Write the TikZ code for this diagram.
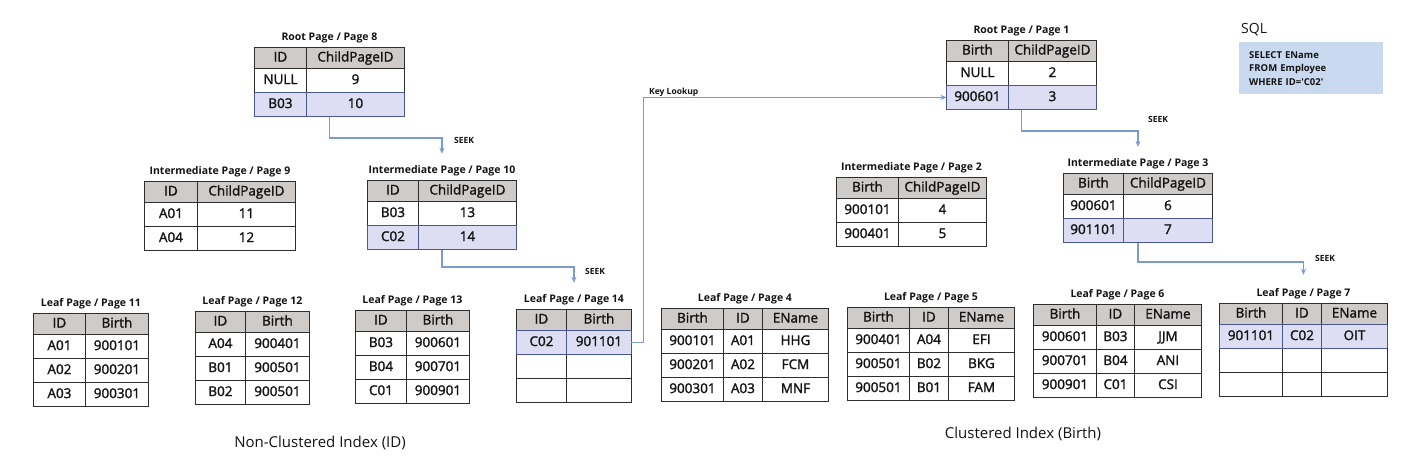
\documentclass[tikz,border=0pt]{standalone}
\usepackage{fontspec}
\setmainfont{Open Sans}
\newfontfamily\cellfont[FakeBold=1.6]{Open Sans}
\usetikzlibrary{matrix,arrows.meta}
\definecolor{hdr}{HTML}{CFCBC9}
\definecolor{hlc}{HTML}{DDDDF3}
\definecolor{hlb}{HTML}{4A5696}
\definecolor{bd}{HTML}{2E2E2E}
\definecolor{cn}{HTML}{7B9AD0}
\definecolor{sqlc}{HTML}{C9D9F0}
\definecolor{tx}{HTML}{141414}
\tikzset{
  tbl/.style={matrix of nodes, anchor=north west, inner sep=0pt, outer sep=0pt,
    column sep=-0.9pt, row sep=-0.9pt, nodes in empty cells,
    nodes={draw=bd, line width=0.9pt, inner sep=0pt, outer sep=0pt,
      minimum height=24pt, text height=9.8pt, text depth=2.6pt, text=tx,
      font=\cellfont\fontsize{13.5}{15}\selectfont, anchor=center},
    row 1/.style={nodes={fill=hdr, minimum height=21pt}}},
  hl/.style={row #1/.style={nodes={fill=hlc, draw=hlb}}},
  cwtwo/.style 2 args={column 1/.style={nodes={minimum width=#1pt}},
    column 2/.style={nodes={minimum width=#2pt}}},
  cwthree/.style n args={3}{column 1/.style={nodes={minimum width=#1pt}},
    column 2/.style={nodes={minimum width=#2pt}},
    column 3/.style={nodes={minimum width=#3pt}}},
  ttl/.style={font=\fontsize{10.5}{12}\bfseries, inner sep=0pt, anchor=base, text=tx},
  lbl/.style={font=\fontsize{8.5}{10}\bfseries, inner sep=0pt, text=tx},
  conn/.style={draw=cn, line width=1.2pt, -{Stealth[length=6pt,width=5pt]}},
  hlline/.style={draw=hlb, line width=0.9pt},
  captxt/.style={font=\fontsize{15}{17}\selectfont, inner sep=0pt, text=tx}
}
\begin{document}
\begin{tikzpicture}[x=1pt,y=-1pt]
\useasboundingbox[fill=white] (0,0) rectangle (1412,471);

% ---------- Non-clustered index ----------
\matrix (r8) [tbl, cwtwo={52}{98}, hl=3] at (254,47) {
ID & ChildPageID\\ NULL & 9\\ B03 & 10\\};
\node[ttl] (t8) at ([yshift=7pt]r8.north) {Root Page / Page 8};

\matrix (i9) [tbl, cwtwo={53}{98}] at (144,181) {
ID & ChildPageID\\ A01 & 11\\ A04 & 12\\};
\node[ttl] (t9) at ([yshift=7pt]i9.north) {Intermediate Page / Page 9};

\matrix (i10) [tbl, cwtwo={51}{98}, hl=3] at (367,180) {
ID & ChildPageID\\ B03 & 13\\ C02 & 14\\};
\node[ttl] (t10) at ([yshift=7pt]i10.north) {Intermediate Page / Page 10};

\matrix (l11) [tbl, cwtwo={52}{63}] at (33,313) {
ID & Birth\\ A01 & 900101\\ A02 & 900201\\ A03 & 900301\\};
\node[ttl] (t11) at ([yshift=7pt]l11.north) {Leaf Page / Page 11};

\matrix (l12) [tbl, cwtwo={50}{64}] at (195,311) {
ID & Birth\\ A04 & 900401\\ B01 & 900501\\ B02 & 900501\\};
\node[ttl] (t12) at ([yshift=7pt]l12.north) {Leaf Page / Page 12};

\matrix (l13) [tbl, cwtwo={51}{63}] at (355,310) {
ID & Birth\\ B03 & 900601\\ B04 & 900701\\ C01 & 900901\\};
\node[ttl] (t13) at ([yshift=7pt]l13.north) {Leaf Page / Page 13};

\matrix (l14) [tbl, cwtwo={50}{65}, hl=2] at (516,309) {
ID & Birth\\ C02 & 901101\\ & \\ & \\};
\node[ttl] (t14) at ([yshift=7pt]l14.north) {Leaf Page / Page 14};
\draw[hlline] (l14-2-1.south west) -- (l14-2-2.south east);

\node[captxt] (cap1) at (320,443) {Non-Clustered Index (ID)};

% ---------- Clustered index ----------
\matrix (r1) [tbl, cwtwo={62}{88}, hl=3] at (946,40) {
Birth & ChildPageID\\ NULL & 2\\ 900601 & 3\\};
\node[ttl] (t1) at ([yshift=7pt]r1.north) {Root Page / Page 1};

\matrix (i2) [tbl, cwtwo={62}{88}] at (836,177) {
Birth & ChildPageID\\ 900101 & 4\\ 900401 & 5\\};
\node[ttl] (t2) at ([yshift=7pt]i2.north) {Intermediate Page / Page 2};

\matrix (i3) [tbl, cwtwo={60}{89}, hl=3] at (1063,173) {
Birth & ChildPageID\\ 900601 & 6\\ 901101 & 7\\};
\node[ttl] (t3) at ([yshift=7pt]i3.north) {Intermediate Page / Page 3};

\matrix (l4) [tbl, cwthree={62}{39}{66}] at (661,308) {
Birth & ID & EName\\ 900101 & A01 & HHG\\ 900201 & A02 & FCM\\ 900301 & A03 & MNF\\};
\node[ttl] (t4) at ([yshift=7pt]l4.north) {Leaf Page / Page 4};

\matrix (l5) [tbl, cwthree={62}{39}{66}] at (847,307) {
Birth & ID & EName\\ 900401 & A04 & EFI\\ 900501 & B02 & BKG\\ 900501 & B01 & FAM\\};
\node[ttl] (t5) at ([yshift=7pt]l5.north) {Leaf Page / Page 5};

\matrix (l6) [tbl, cwthree={63}{38}{67}] at (1033,304) {
Birth & ID & EName\\ 900601 & B03 & JJM\\ 900701 & B04 & ANI\\ 900901 & C01 & CSI\\};
\node[ttl] (t6) at ([yshift=7pt]l6.north) {Leaf Page / Page 6};

\matrix (l7) [tbl, cwthree={63}{39}{66}, hl=2] at (1219,303) {
Birth & ID & EName\\ 901101 & C02 & OIT\\ & & \\ & & \\};
\node[ttl] (t7) at ([yshift=7pt]l7.north) {Leaf Page / Page 7};
\draw[hlline] (l7-2-1.south west) -- (l7-2-3.south east);

\node[captxt] (cap2) at (1023,434) {Clustered Index (Birth)};

% ---------- SQL ----------
\node[font=\fontsize{14}{16}\selectfont, anchor=west, inner sep=0pt, text=tx] (sqlt) at (1241,30) {SQL};
\node[fill=sqlc, anchor=north west, text width=124pt, inner xsep=10pt, inner ysep=4pt,
  minimum height=52pt, align=left, text=tx, font=\fontsize{9.5}{13.5}\bfseries] (sql) at (1239,42)
  {SELECT EName\\FROM Employee\\WHERE ID=\textquotesingle C02\textquotesingle};

% ---------- connectors ----------
\draw[conn] (r8.south) -- ++(0,21) -| ([yshift=11pt]t10.north);
\node[lbl] (s1) at (464,140) {SEEK};
\draw[conn] (i10.south) -- ++(0,17) -| ([yshift=11pt]t14.north);
\node[lbl] (s2) at (595,271) {SEEK};
\draw[conn] (r1.south) -- ++(0,21) -| ([yshift=11pt]t3.north);
\node[lbl] (s3) at (1158,119) {SEEK};
\draw[conn] (i3.south) -- ++(0,19) -| ([yshift=13pt]t7.north);
\node[lbl] (s4) at (1325,258) {SEEK};
\draw[conn] (l14-2-2.east) -- ++(12,0) |- (r1-3-1.west);
\node[lbl, anchor=west] (kl) at (649,92) {Key Lookup};
\end{tikzpicture}
\end{document}
